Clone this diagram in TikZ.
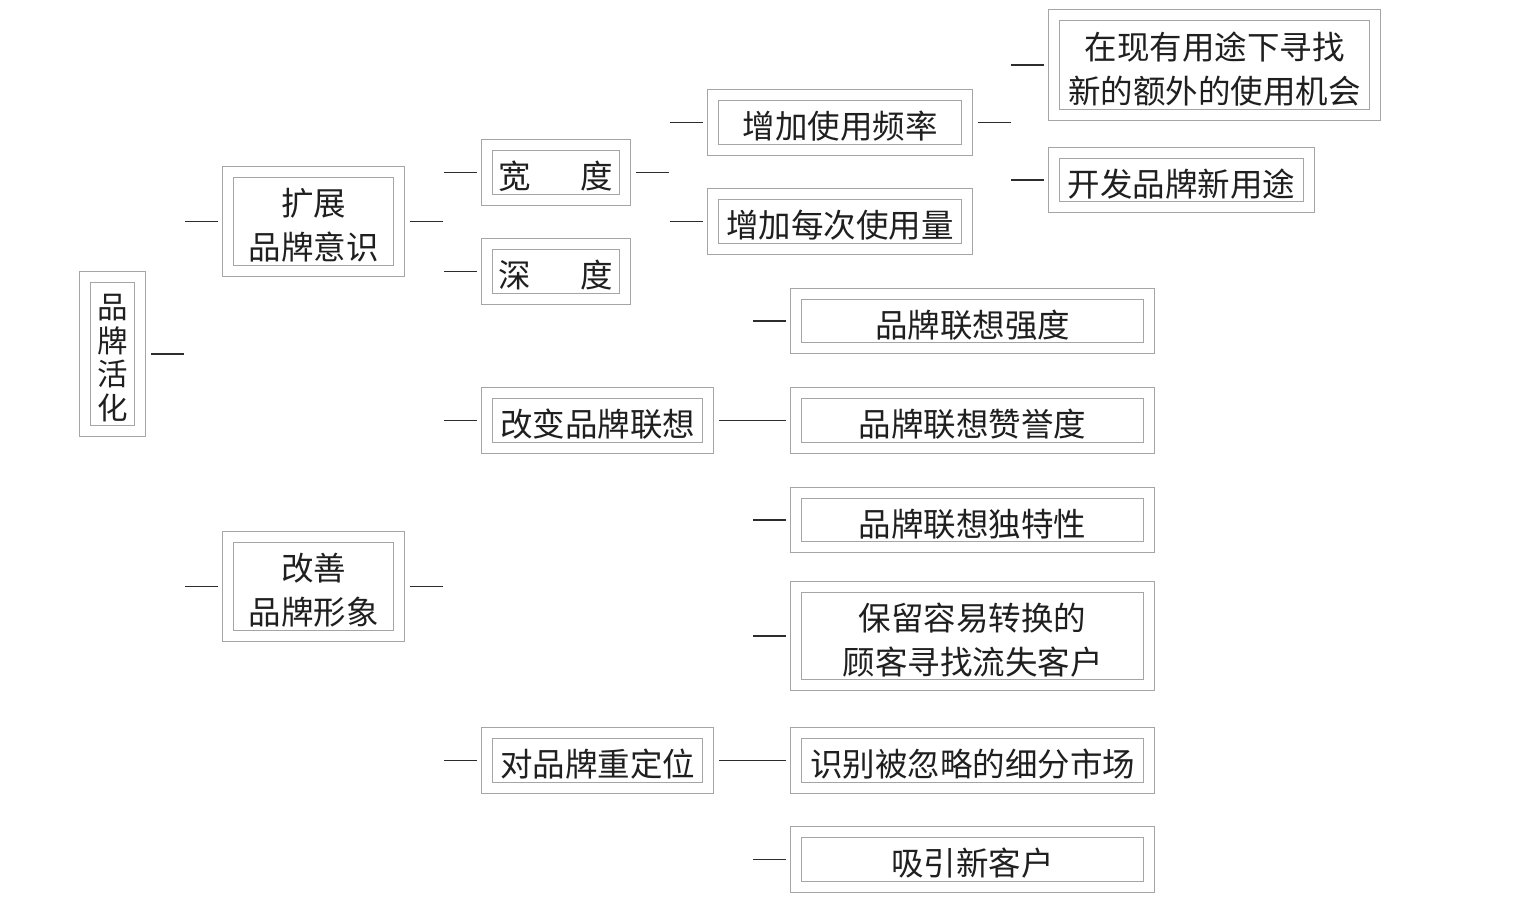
\documentclass[tikz,border=0pt]{standalone}
\usepackage{fontspec}
\newfontfamily\cjk{Noto Sans CJK SC}
\definecolor{boxgray}{RGB}{165,165,165}
\definecolor{dashgray}{RGB}{45,45,45}
\tikzset{
  bx/.style={rectangle, draw=boxgray, line width=1.1pt, double=white, double distance=9.6pt,
    inner sep=0pt, outer sep=6pt},
  txt/.style={inner sep=0pt, align=center, text=black!88, yshift=-4pt,
    font=\cjk\fontsize{32.5}{44}\selectfont},
  vtxt/.style={txt, font=\cjk\fontsize{30.5}{33.5}\selectfont},
  conn/.style={draw=dashgray, line width=1.4pt},
}
\newcommand\bxn[6][txt]{\node[bx, minimum width=#4, minimum height=#5,
  label={[#1]center:{#6}}] (#2) at (#3) {};}
\newcommand\ldash[1]{\draw[conn] ([xshift=-37pt]#1.west) -- ([xshift=-4pt]#1.west);}
\newcommand\rdash[1]{\draw[conn] ([xshift=5pt]#1.east) -- ([xshift=38pt]#1.east);}
\begin{document}
\begin{tikzpicture}[x=1pt, y={(0pt,-1pt)}]
\fill[white] (0,0) rectangle (1521,906);
\useasboundingbox (0,0) rectangle (1521,906);

\bxn[vtxt]{A}{112.5,354}{55.2pt}{154.2pt}{品\\牌\\活\\化}
\bxn{B}{313.5,221.5}{171.2pt}{99.2pt}{扩展\\品牌意识}
\bxn{C}{556,172.5}{138.2pt}{55.2pt}{宽\hspace{50pt}度}
\bxn{D}{556,271.5}{138.2pt}{55.2pt}{深\hspace{50pt}度}
\bxn{E}{840,122.5}{254.2pt}{55.2pt}{增加使用频率}
\bxn{F}{840,221.5}{254.2pt}{55.2pt}{增加每次使用量}
\bxn{G}{1214.5,65}{321.2pt}{100.2pt}{在现有用途下寻找\\新的额外的使用机会}
\bxn{H}{1181.5,180}{255.2pt}{54.2pt}{开发品牌新用途}
\bxn{I}{972.5,321}{353.2pt}{54.2pt}{品牌联想强度}
\bxn{J}{597.5,420.5}{221.2pt}{55.2pt}{改变品牌联想}
\bxn{K}{972.5,420.5}{353.2pt}{55.2pt}{品牌联想赞誉度}
\bxn{L}{972.5,520}{353.2pt}{54.2pt}{品牌联想独特性}
\bxn{M}{313.5,586.5}{171.2pt}{99.2pt}{改善\\品牌形象}
\bxn{N}{972.5,636}{353.2pt}{98.2pt}{保留容易转换的\\顾客寻找流失客户}
\bxn{O}{597.5,760.5}{221.2pt}{55.2pt}{对品牌重定位}
\bxn{P}{972.5,760.5}{353.2pt}{55.2pt}{识别被忽略的细分市场}
\bxn{Q}{972.5,859.5}{353.2pt}{55.2pt}{吸引新客户}

\rdash{A}
\ldash{B}\rdash{B}
\ldash{C}\rdash{C}
\ldash{D}
\ldash{E}\rdash{E}
\ldash{F}
\ldash{G}
\ldash{H}
\ldash{I}
\ldash{J}
\draw[conn] ([xshift=5pt]J.east) -- ([xshift=-4pt]K.west);
\ldash{L}
\ldash{M}\rdash{M}
\ldash{N}
\ldash{O}
\draw[conn] ([xshift=5pt]O.east) -- ([xshift=-4pt]P.west);
\ldash{Q}
\end{tikzpicture}
\end{document}
